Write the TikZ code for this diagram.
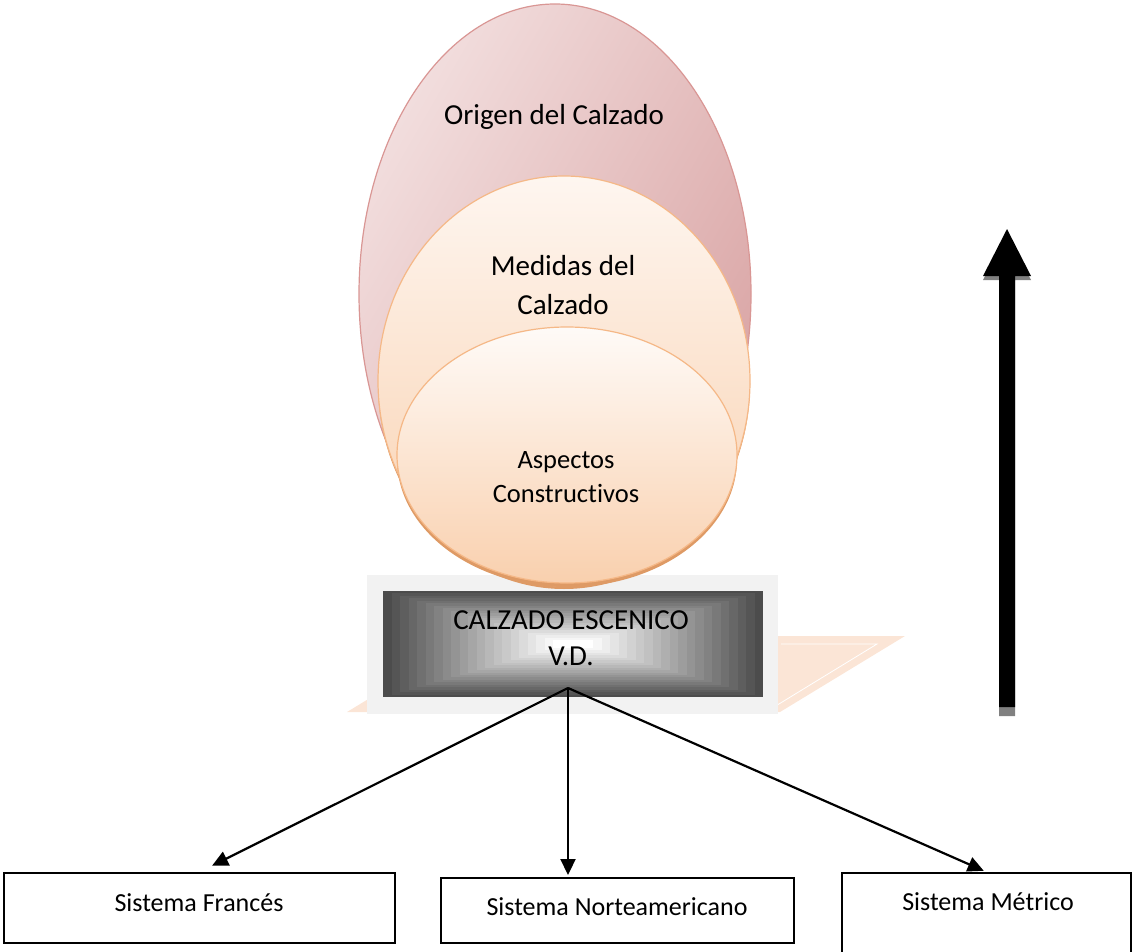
\documentclass[tikz,border=0pt]{standalone}
\usepackage{fontspec}
\setmainfont{Carlito}[Ligatures=NoCommon]
\usetikzlibrary{arrows.meta}
\definecolor{rosaborde}{HTML}{D99694}
\definecolor{rosaclaro}{HTML}{F2DEDE}
\definecolor{rosaoscuro}{HTML}{D9A3A3}
\definecolor{naranjaborde}{HTML}{F5B887}
\definecolor{naranjaclaro}{HTML}{FEF6F0}
\definecolor{naranja}{HTML}{F9D0AE}
\definecolor{naranjasombra}{HTML}{DE9A65}
\definecolor{durazno}{HTML}{FBE5D6}
\definecolor{grisfondo}{HTML}{F2F2F2}

\begin{document}
\begin{tikzpicture}[x=1pt,y=-1pt,
    sistema/.style={draw, line width=2pt, inner sep=0pt, font=\fontsize{26}{30}\selectfont},
    flecha/.style={line width=2.2pt, -{Triangle[length=16pt,width=15pt]}}]
    \useasboundingbox (0,0) rectangle (1134,952);
    % base
    \fill[durazno] (347,712) -- (780,712) -- (905,636) -- (472,636) -- cycle;
    \draw[white, line width=0.8pt] (781,644) -- (877,644) -- (774,707);
    \fill[grisfondo] (367,575) rectangle (778,714);
    \foreach \i in {0,...,20}{
        \pgfmathsetmacro\pc{70-3.5*\i}
        \fill[black!\pc] (383+8.5*\i,591+2.45*\i) rectangle (763-8.5*\i,697-2.45*\i);
    }
    % ellipses
    \shade[shading=axis, left color=rosaclaro, right color=rosaoscuro, shading angle=60] (555,294) ellipse (196 and 290);
    \draw[rosaborde, line width=1.2pt] (555,294) ellipse (196 and 290);
    \fill[naranjasombra] (564,384) ellipse (186 and 205);
    \shade[top color=naranjaclaro, bottom color=naranja] (564,381) ellipse (186 and 205);
    \draw[naranjaborde, line width=1.2pt] (564,381) ellipse (186 and 205);
    \fill[naranjasombra] (567,459) ellipse (170 and 128);
    \shade[top color=naranjaclaro!50!white, bottom color=naranja] (567,455) ellipse (170 and 128);
    \draw[naranjaborde, line width=1.2pt] (567,455) ellipse (170 and 128);
    \node[font=\fontsize{29}{34}\selectfont] (origen) at (554,117) {Origen del Calzado};
    \node[font=\fontsize{29}{39}\selectfont, align=center] (medidas) at (563,285) {Medidas del\\Calzado};
    \node[font=\fontsize{26.5}{34}\selectfont, align=center] (aspectos) at (566,477) {Aspectos\\Constructivos};
    % calzado
    \node[font=\fontsize{29}{36}\selectfont, align=center, minimum width=380pt, minimum height=106pt] (vd) at (571,638) {CALZADO ESCENICO\\V.D.};
    \coordinate (hub) at (568,688);
    % sistemas
    \node[sistema, minimum width=391pt, minimum height=70pt] (fr) at (199.5,908) {};
    \node[sistema, minimum width=353pt, minimum height=65pt] (na) at (617.5,910.5) {};
    \node[sistema, minimum width=289pt, minimum height=80pt] (mt) at (986.5,913) {};
    \node[font=\fontsize{26}{30}\selectfont] at (199,903) {Sistema Francés};
    \node[font=\fontsize{26}{30}\selectfont] at (617,907) {Sistema Norteamericano};
    \node[font=\fontsize{26}{30}\selectfont] at (988,902) {Sistema Métrico};
    \draw[flecha, shorten >=14pt] (hub) -- (fr.north);
    \draw[flecha, shorten >=2pt] (hub) -- (hub |- na.north);
    \draw[flecha, shorten >=3pt] (hub) -- (mt.north);
    % flecha grande
    \fill[black!50] (999,716) -- (999,280) -- (983,280) -- (1007,233) -- (1031,280) -- (1015,280) -- (1015,716) -- cycle;
    \fill[black] (999,707) -- (999,276) -- (983,276) -- (1007,229) -- (1031,276) -- (1015,276) -- (1015,707) -- cycle;
\end{tikzpicture}
\end{document}
